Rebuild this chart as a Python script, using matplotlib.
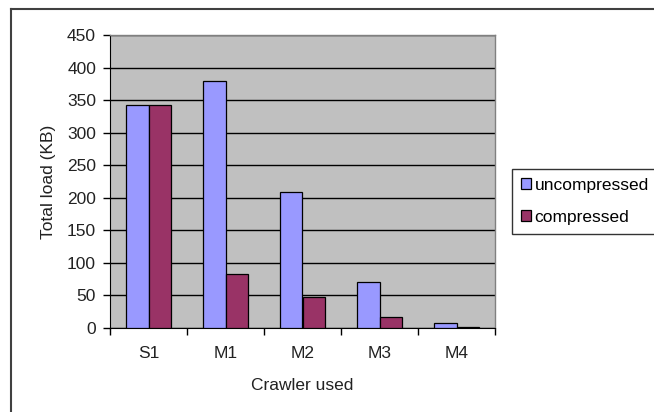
import matplotlib.pyplot as plt
from matplotlib.lines import Line2D
import numpy as np

plt.rcParams["font.family"] = ["Liberation Sans", "DejaVu Sans"]

crawlers = ["S1", "M1", "M2", "M3", "M4"]
uncompressed = [342, 380, 209, 71, 7]
compressed = [342, 83, 48, 17, 2]
yticks = [0, 50, 100, 150, 200, 250, 300, 350, 400, 450]

W, H = 654, 412
fs = 12.5
fig = plt.figure(figsize=(W / 100, H / 100), dpi=100)
ax = fig.add_axes([110 / W, 1 - 328 / H, 385 / W, 293 / H])
ax.set_facecolor("#c0c0c0")

x = np.arange(len(crawlers))
bw = 0.294
ax.bar(x - bw / 2, uncompressed, bw, color="#9999ff", edgecolor="black",
       linewidth=0.9, label="uncompressed", zorder=3)
ax.bar(x + bw / 2, compressed, bw, color="#993366", edgecolor="black",
       linewidth=0.9, label="compressed", zorder=3)

ax.set_xlim(-0.5, len(crawlers) - 0.5)
ax.set_ylim(0, 450)
ax.set_yticks(yticks)
ax.yaxis.grid(True, color="black", linewidth=1.0, zorder=1)
ax.set_axisbelow(True)

ax.set_xticks(x)
ax.set_xticklabels(crawlers)
ax.set_xticks(np.arange(len(crawlers) + 1) - 0.5, minor=True)
ax.tick_params(axis="x", which="major", length=0, pad=13, labelsize=fs,
               labelcolor="#222222")
ax.tick_params(axis="x", which="minor", length=5, width=1, direction="out")
ax.tick_params(axis="y", length=5, width=1, direction="out", labelsize=fs,
               pad=5, labelcolor="#222222")

for side in ["top", "right"]:
    ax.spines[side].set_color("#808080")
    ax.spines[side].set_linewidth(1)
ax.spines["left"].set_color("black")
ax.spines["bottom"].set_color("black")

ax.set_ylabel("Total load (KB)", fontsize=fs, labelpad=8, color="#222222")
ax.set_xlabel("Crawler used", fontsize=fs, labelpad=12, color="#222222")

# outer chart border (only left and top visible)
fig.add_artist(Line2D([11 / W, 11 / W], [0, 1 - 9 / H], transform=fig.transFigure,
                      color="#404040", linewidth=1.5))
fig.add_artist(Line2D([11 / W, 1], [1 - 9 / H, 1 - 9 / H], transform=fig.transFigure,
                      color="#404040", linewidth=1.5))

leg = fig.legend(loc="upper left", bbox_to_anchor=(512 / W, 1 - 169 / H),
                 fontsize=fs, frameon=True, fancybox=False, edgecolor="black",
                 handlelength=0.6, handleheight=0.6, handletextpad=0.2,
                 labelspacing=1.0, borderpad=0.5, borderaxespad=0)
leg.get_frame().set_linewidth(1)

fig.savefig("out.png", dpi=100)
